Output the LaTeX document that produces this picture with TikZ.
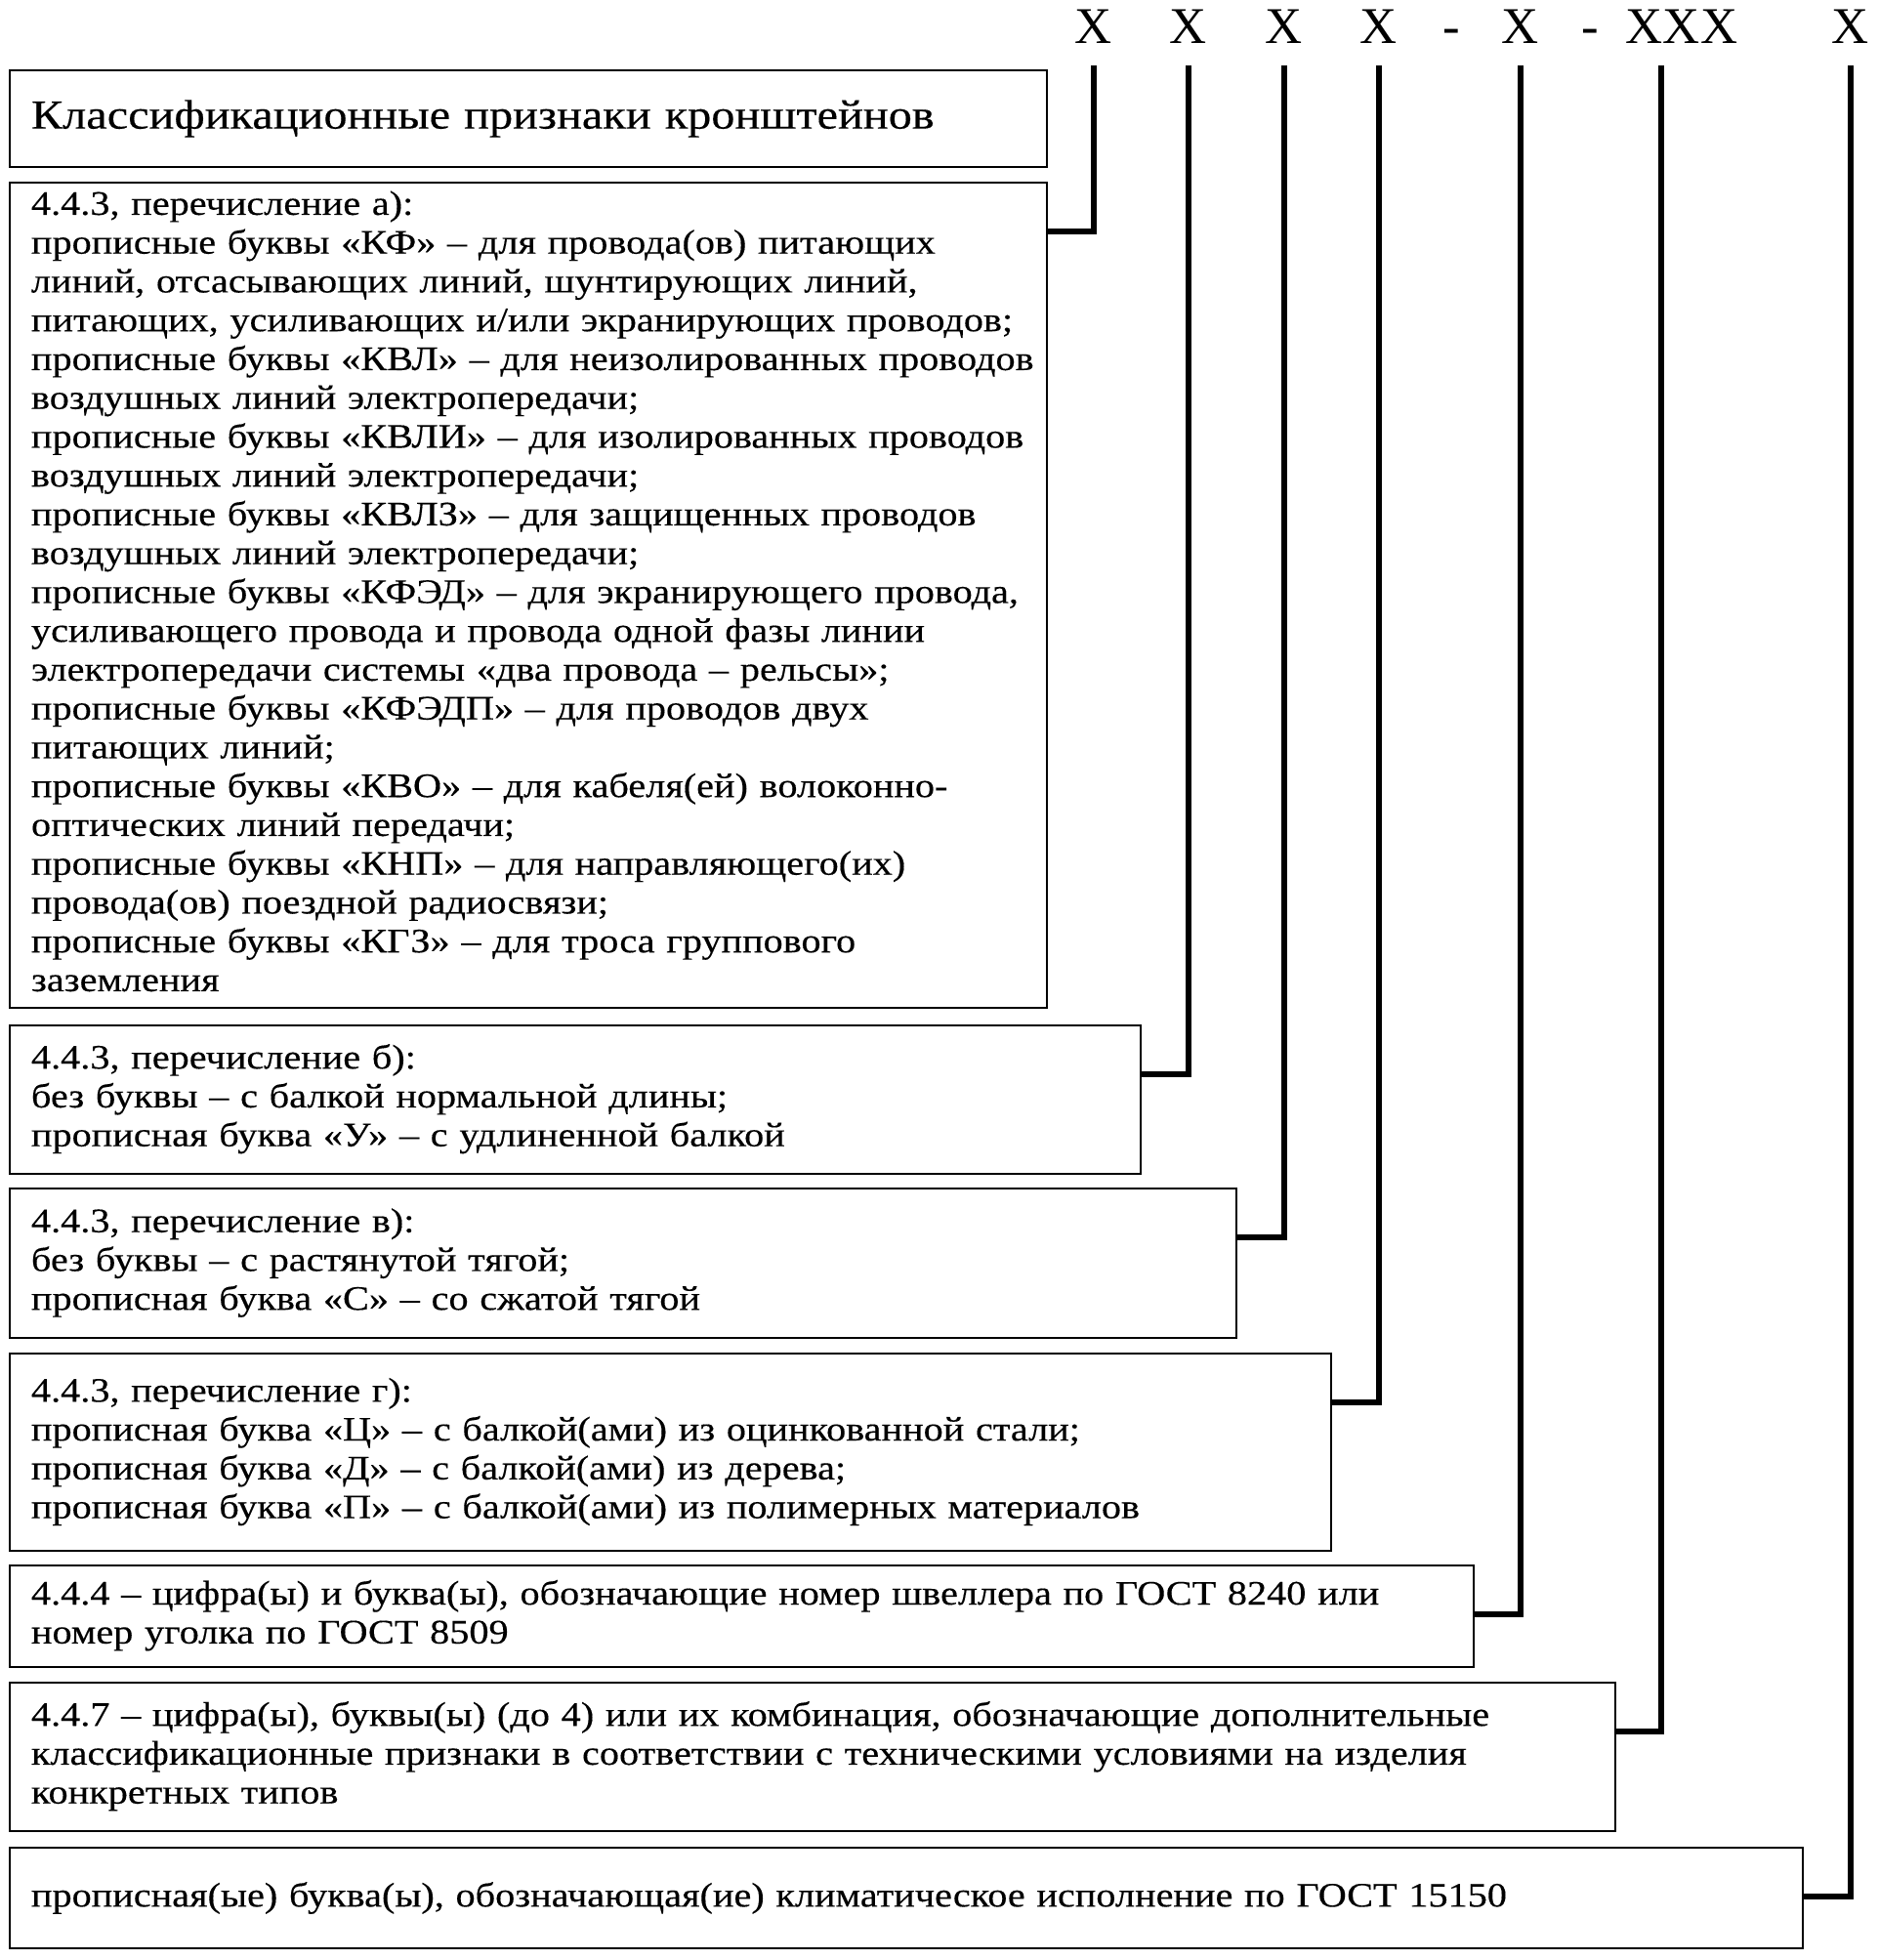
\documentclass[tikz,border=0pt]{standalone}
\usepackage{fontspec}
\setmainfont{Liberation Serif}[FakeStretch=1.145, FakeBold=0.3]
\newfontfamily\hdrfont{Liberation Serif}
\usepackage{tikz}

\begin{document}
\begin{tikzpicture}[
    pbox/.style={draw, line width=0.8pt, anchor=north west, align=left, outer sep=0pt,
        inner xsep=0.22cm, inner ysep=0pt, font=\fontsize{10}{11.31}\selectfont},
    hdr/.style={anchor=base, inner sep=0pt, font=\hdrfont\fontsize{15}{15}\selectfont},
    conn/.style={draw, line width=1.7pt}
]

\useasboundingbox (0,0) rectangle (19.23,-20.07);

% designation pattern
\node[hdr] (h1) at (11.20,-0.45) {X};
\node[hdr] (h2) at (12.17,-0.45) {X};
\node[hdr] (h3) at (13.15,-0.45) {X};
\node[hdr] (h4) at (14.12,-0.45) {X};
\node[hdr] (d1) at (14.86,-0.45) {-};
\node[hdr] (h5) at (15.57,-0.45) {X};
\node[hdr] (d2) at (16.28,-0.45) {-};
\node[hdr] (h6) at (17.22,-0.45) {XXX};
\node[hdr] (h7) at (18.95,-0.45) {X};

% title
\node[pbox, text width=10.18cm, minimum height=0.99cm,
      font=\fontsize{12}{13}\selectfont] (title) at (0.10,-0.72)
    {\raisebox{-0.5mm}{Классификационные признаки кронштейнов}};

% 4.4.3 a)
\node[pbox, text width=10.18cm, minimum height=8.45cm] (ka) at (0.10,-1.87)
    {\begin{tabular}{@{}l@{}}
     4.4.3, перечисление а):\\
     прописные буквы «КФ» – для провода(ов) питающих\\
     линий, отсасывающих линий, шунтирующих линий,\\
     питающих, усиливающих и/или экранирующих проводов;\\
     прописные буквы «КВЛ» – для неизолированных проводов\\
     воздушных линий электропередачи;\\
     прописные буквы «КВЛИ» – для изолированных проводов\\
     воздушных линий электропередачи;\\
     прописные буквы «КВЛЗ» – для защищенных проводов\\
     воздушных линий электропередачи;\\
     прописные буквы «КФЭД» – для экранирующего провода,\\
     усиливающего провода и провода одной фазы линии\\
     электропередачи системы «два провода – рельсы»;\\
     прописные буквы «КФЭДП» – для проводов двух\\
     питающих линий;\\
     прописные буквы «КВО» – для кабеля(ей) волоконно-\\
     оптических линий передачи;\\
     прописные буквы «КНП» – для направляющего(их)\\
     провода(ов) поездной радиосвязи;\\
     прописные буквы «КГЗ» – для троса группового\\
     заземления
     \end{tabular}};

% 4.4.3 b)
\node[pbox, text width=11.14cm, minimum height=1.52cm] (kb) at (0.10,-10.50)
    {\begin{tabular}{@{}l@{}}
     4.4.3, перечисление б):\\
     без буквы – с балкой нормальной длины;\\
     прописная буква «У» – с удлиненной балкой
     \end{tabular}};

% 4.4.3 v)
\node[pbox, text width=12.12cm, minimum height=1.53cm] (kv) at (0.10,-12.17)
    {\begin{tabular}{@{}l@{}}
     4.4.3, перечисление в):\\
     без буквы – с растянутой тягой;\\
     прописная буква «С» – со сжатой тягой
     \end{tabular}};

% 4.4.3 g)
\node[pbox, text width=13.09cm, minimum height=2.02cm] (kg) at (0.10,-13.86)
    {\begin{tabular}{@{}l@{}}
     4.4.3, перечисление г):\\
     прописная буква «Ц» – с балкой(ами) из оцинкованной стали;\\
     прописная буква «Д» – с балкой(ами) из дерева;\\
     прописная буква «П» – с балкой(ами) из полимерных материалов
     \end{tabular}};

% 4.4.4
\node[pbox, text width=14.55cm, minimum height=1.04cm] (kn) at (0.10,-16.03)
    {\begin{tabular}{@{}l@{}}
     4.4.4 – цифра(ы) и буква(ы), обозначающие номер швеллера по ГОСТ 8240 или\\
     номер уголка по ГОСТ 8509
     \end{tabular}};

% 4.4.7
\node[pbox, text width=16.00cm, minimum height=1.52cm] (kd) at (0.10,-17.23)
    {\begin{tabular}{@{}l@{}}
     4.4.7 – цифра(ы), буквы(ы) (до 4) или их комбинация, обозначающие дополнительные\\
     классификационные признаки в соответствии с техническими условиями на изделия\\
     конкретных типов
     \end{tabular}};

% climate
\node[pbox, text width=17.92cm, minimum height=1.03cm] (kc) at (0.10,-18.92)
    {прописная(ые) буква(ы), обозначающая(ие) климатическое исполнение по ГОСТ 15150};

% connectors
\draw[conn] ([yshift=-5mm]ka.north east) -| ([yshift=-2.1mm]h1.south);
\draw[conn] ([yshift=-5mm]kb.north east) -| ([yshift=-2.1mm]h2.south);
\draw[conn] ([yshift=-5mm]kv.north east) -| ([yshift=-2.1mm]h3.south);
\draw[conn] ([yshift=-5mm]kg.north east) -| ([yshift=-2.1mm]h4.south);
\draw[conn] ([yshift=-5mm]kn.north east) -| ([yshift=-2.1mm]h5.south);
\draw[conn] ([yshift=-5mm]kd.north east) -| ([xshift=-2.1mm,yshift=-2.1mm]h6.south);
\draw[conn] ([yshift=-5mm]kc.north east) -| ([yshift=-2.1mm]h7.south);

\end{tikzpicture}
\end{document}
